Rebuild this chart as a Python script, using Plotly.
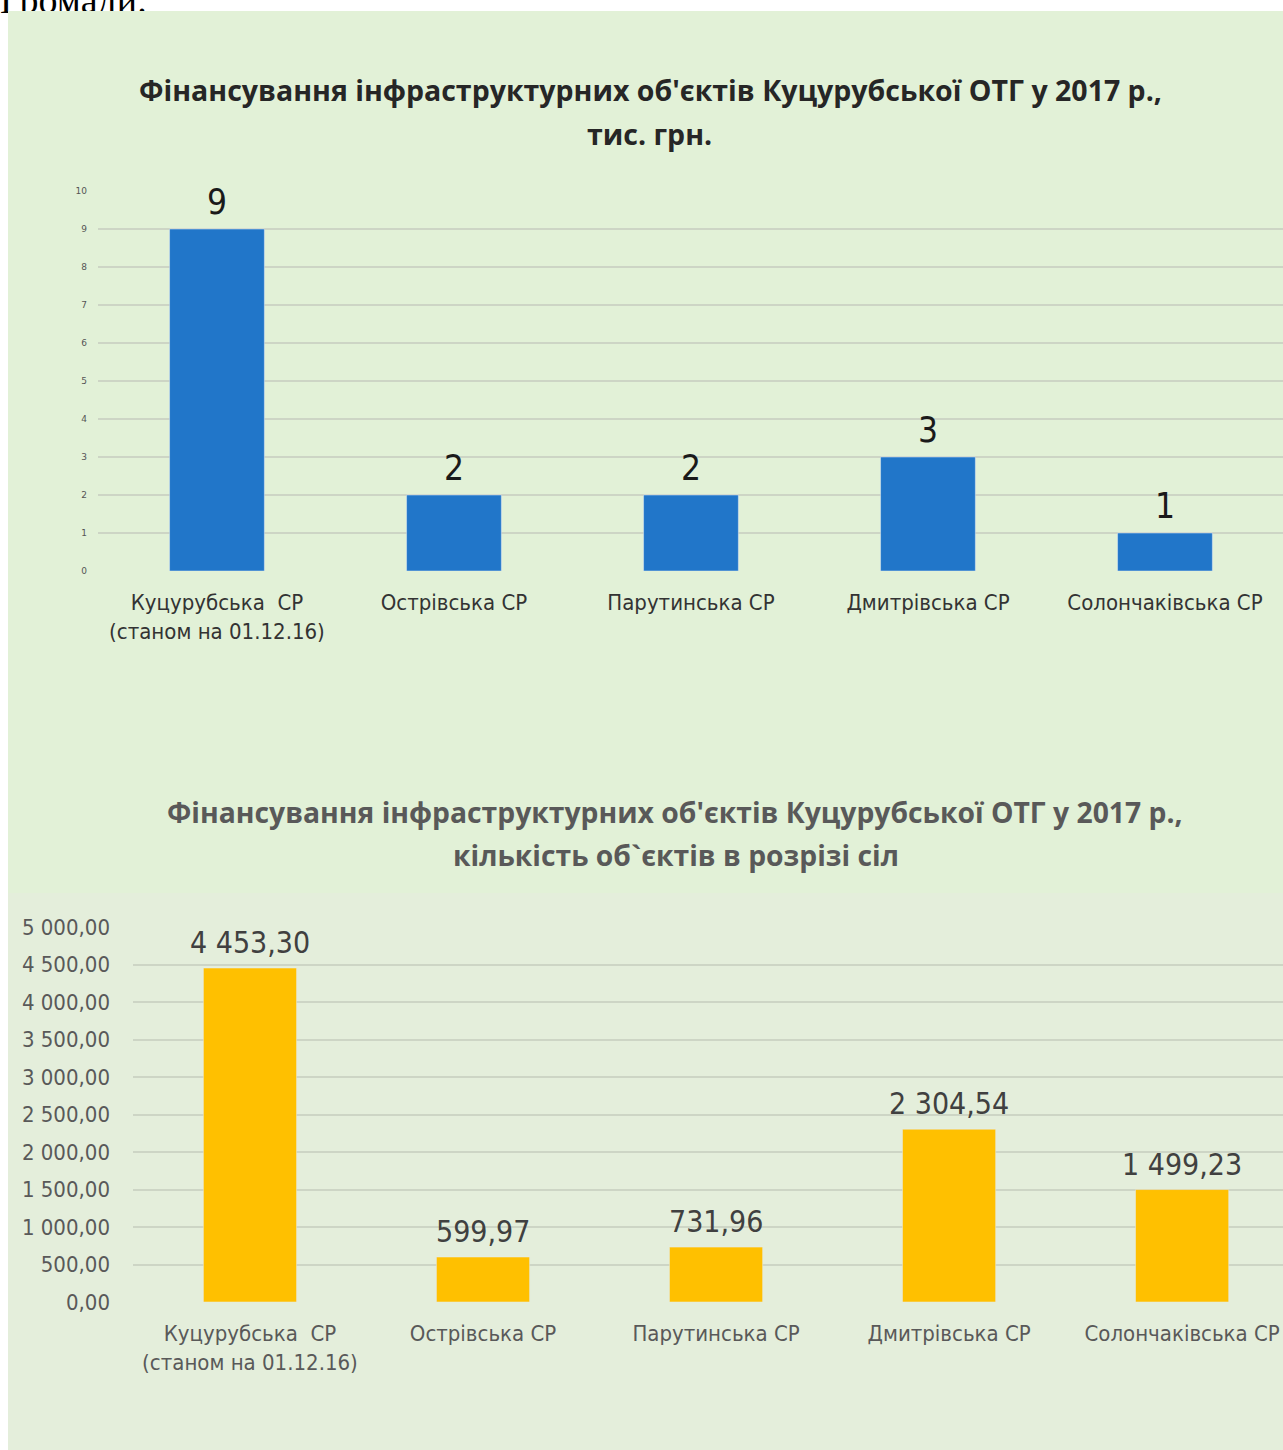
import plotly.graph_objects as go

W, H = 1283, 1450

# ---------------- data ----------------
categories = [
    "Куцурубська  СР<br>(станом на 01.12.16)",
    "Острівська СР",
    "Парутинська СР",
    "Дмитрівська СР",
    "Солончаківська СР",
]
object_counts = [9, 2, 2, 3, 1]
count_labels = ["9", "2", "2", "3", "1"]
count_tickvals = [0, 1, 2, 3, 4, 5, 6, 7, 8, 9, 10]

funding = [4453.30, 599.97, 731.96, 2304.54, 1499.23]
funding_labels = ["4 453,30", "599,97", "731,96", "2 304,54", "1 499,23"]
funding_tickvals = [0, 500, 1000, 1500, 2000, 2500, 3000, 3500, 4000, 4500, 5000]
funding_ticktext = ["0,00", "500,00", "1 000,00", "1 500,00", "2 000,00", "2 500,00",
                    "3 000,00", "3 500,00", "4 000,00", "4 500,00", "5 000,00"]

title_top_1 = "Фінансування інфраструктурних об'єктів Куцурубської ОТГ у 2017 р.,"
title_top_2 = "тис. грн."
title_bot_1 = "Фінансування інфраструктурних об'єктів Куцурубської ОТГ у 2017 р.,"
title_bot_2 = "кількість об`єктів в розрізі сіл"
page_text = "Громади."

# ---------------- style ----------------
NARROW = "Liberation Sans Narrow, Arial Narrow, DejaVu Sans Condensed, sans-serif"
TITLE_FONT = "Open Sans, Noto Sans, sans-serif"
BLUE = "#2176c9"
GOLD = "#ffc000"
GRID = "#cdd5c5"
BG_TOP = "#e2f1d7"
BG_BOT = "#e4eedb"


def fx(px):
    return px / W


def fy(py):
    return 1 - py / H


fig = go.Figure()

fig.add_trace(go.Bar(x=categories, y=object_counts, marker_color=BLUE,
                     xaxis="x", yaxis="y", hoverinfo="skip"))
fig.add_trace(go.Bar(x=categories, y=funding, marker_color=GOLD,
                     xaxis="x2", yaxis="y2", hoverinfo="skip"))
fig.add_trace(go.Scatter(x=[0], y=[0.925], mode="text", text=[page_text],
                         textposition="middle right", cliponaxis=False,
                         textfont=dict(family="Liberation Serif, Times New Roman, serif",
                                       size=38, color="#000000"),
                         xaxis="x3", yaxis="y3", hoverinfo="skip"))

annotations = []
for c, v, t in zip(categories, object_counts, count_labels):
    annotations.append(dict(x=c, y=v, xref="x", yref="y", text=t, showarrow=False,
                            yanchor="bottom", yshift=5,
                            font=dict(family=NARROW, size=35, color="#1a1a1a")))
for c, v, t in zip(categories, funding, funding_labels):
    annotations.append(dict(x=c, y=v, xref="x2", yref="y2", text=t, showarrow=False,
                            yanchor="bottom", yshift=6,
                            font=dict(family=NARROW, size=30, color="#404040")))

annotations += [
    dict(x=fx(650), y=fy(90), xref="paper", yref="paper", text="<b>" + title_top_1 + "</b>",
         showarrow=False, xanchor="center", yanchor="middle",
         font=dict(family=TITLE_FONT, size=28.5, color="#262626")),
    dict(x=fx(649), y=fy(134), xref="paper", yref="paper", text="<b>" + title_top_2 + "</b>",
         showarrow=False, xanchor="center", yanchor="middle",
         font=dict(family=TITLE_FONT, size=28.5, color="#262626")),
    dict(x=fx(675), y=fy(812), xref="paper", yref="paper", text="<b>" + title_bot_1 + "</b>",
         showarrow=False, xanchor="center", yanchor="middle",
         font=dict(family=TITLE_FONT, size=28.3, color="#595959")),
    dict(x=fx(676), y=fy(855), xref="paper", yref="paper", text="<b>" + title_bot_2 + "</b>",
         showarrow=False, xanchor="center", yanchor="middle",
         font=dict(family=TITLE_FONT, size=28.3, color="#595959")),
]

shapes = [
    dict(type="rect", xref="paper", yref="paper", x0=fx(8), x1=1, y0=fy(893), y1=fy(11),
         fillcolor=BG_TOP, line_width=0, layer="below"),
    dict(type="rect", xref="paper", yref="paper", x0=fx(8), x1=1, y0=0, y1=fy(893),
         fillcolor=BG_BOT, line_width=0, layer="below"),
    dict(type="rect", xref="paper", yref="paper", x0=fx(8), x1=fx(420), y0=fy(60), y1=fy(11),
         fillcolor=BG_TOP, line_width=0, layer="above"),
]

fig.update_layout(
    width=W, height=H,
    margin=dict(l=0, r=0, t=0, b=0, pad=0, autoexpand=False),
    paper_bgcolor="#ffffff",
    plot_bgcolor="rgba(0,0,0,0)",
    showlegend=False,
    bargap=0.6,
    annotations=annotations,
    shapes=shapes,
    xaxis=dict(domain=[fx(98), 1], range=[-0.502, 4.498], showgrid=False, zeroline=False,
               showline=False, ticks="", ticklabelstandoff=16, automargin=False,
               tickfont=dict(family=NARROW, size=22, color="#333333"), fixedrange=True),
    yaxis=dict(domain=[fy(571), fy(191)], range=[0, 10], tickvals=count_tickvals,
               showgrid=True, gridcolor=GRID, gridwidth=1.5, zeroline=False, showline=False,
               ticks="", ticklabelstandoff=10, automargin=False,
               tickfont=dict(family="DejaVu Sans, sans-serif", size=9, color="#555555")),
    xaxis2=dict(domain=[fx(133), 1], range=[-0.502, 4.433], showgrid=False, zeroline=False,
                showline=False, ticks="", ticklabelstandoff=16, anchor="y2", automargin=False,
                tickfont=dict(family=NARROW, size=22, color="#595959")),
    yaxis2=dict(domain=[fy(1302), fy(927)], range=[0, 5000], tickvals=funding_tickvals,
                ticktext=funding_ticktext, anchor="x2", automargin=False,
                showgrid=True, gridcolor=GRID, gridwidth=1.5, zeroline=False, showline=False,
                ticks="", ticklabelstandoff=22,
                tickfont=dict(family=NARROW, size=22, color="#595959")),
    xaxis3=dict(domain=[0, 0.3], range=[0, 1], visible=False, anchor="y3", automargin=False),
    yaxis3=dict(domain=[fy(40), 1], range=[0, 1], visible=False, anchor="x3", automargin=False),
)

fig.write_html(
    "out.html",
    config={"displayModeBar": False},
    post_script="document.body.style.margin='0';document.body.style.padding='0';"
                "document.body.style.overflow='hidden';",
)
